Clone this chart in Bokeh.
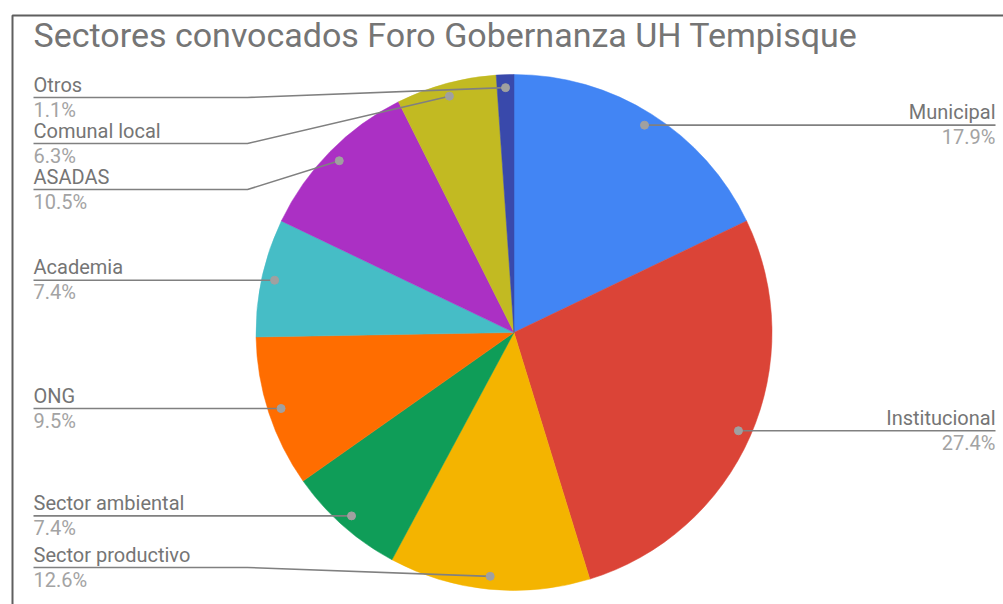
import math
from bokeh.plotting import figure
from bokeh.models import Range1d, ColumnDataSource
from bokeh.core.properties import value
from bokeh.embed import file_html
from bokeh.resources import INLINE

# ---- data ----
categories = ["Municipal", "Institucional", "Sector productivo", "Sector ambiental",
              "ONG", "Academia", "ASADAS", "Comunal local", "Otros"]
values = [17.9, 27.4, 12.6, 7.4, 9.5, 7.4, 10.5, 6.3, 1.1]
colors = ["#4285F4", "#DB4437", "#F4B400", "#0F9D58", "#FF6D00",
          "#46BDC6", "#AB30C4", "#C2BA22", "#3949AB"]
title = "Sectores convocados Foro Gobernanza UH Tempisque"

# ---- layout (pixels) ----
W, H = 1003, 604
CX, CY_S, R = 513.5, 332.0, 258.0     # centre (screen y) and radius
RD = 245.0                             # radius of leader dots
LEFT_X, BEND_X, RIGHT_X = 33, 247, 995
GAP, TOP_MIN, BOT_MAX = 46, 97, 567
FONT = value("Roboto")
LBL_FS = 20

def sy(y):  # screen y -> data y
    return H - y

p = figure(width=W, height=H, x_range=Range1d(0, W), y_range=Range1d(0, H),
           output_backend="svg", toolbar_location=None, min_border=0,
           x_axis_type=None, y_axis_type=None)
p.grid.visible = False
p.outline_line_color = None
p.background_fill_color = "white"
p.border_fill_color = "white"

# frame
p.quad(left=12, right=W + 10, top=sy(15), bottom=-10, fill_alpha=0,
       line_color="#5f5f5f", line_width=2)

# title
p.text(x=[LEFT_X], y=[sy(34)], text=[title], text_font=FONT, text_font_size="34px",
       text_color="#757575", text_align="left", text_baseline="alphabetic")

total = sum(values)
cum = 0.0
starts, ends, mids = [], [], []
for v in values:
    t0 = 2 * math.pi * cum / total
    cum += v
    t1 = 2 * math.pi * cum / total
    starts.append(math.pi / 2 - t1)
    ends.append(math.pi / 2 - t0)
    mids.append((t0 + t1) / 2)

src = ColumnDataSource(dict(start=starts, end=ends, color=colors, cat=categories))
p.wedge(x=CX, y=sy(CY_S), radius=R, start_angle="start", end_angle="end",
        fill_color="color", line_color="color", line_width=0.5, source=src)

# leader dots
dx = [CX + RD * math.sin(m) for m in mids]
dys = [CY_S - RD * math.cos(m) for m in mids]   # screen y

left = sorted([i for i in range(len(values)) if dx[i] < CX], key=lambda i: dys[i])
right = sorted([i for i in range(len(values)) if dx[i] >= CX], key=lambda i: dys[i])

label_y = {}
prev = None
for i in left:
    y = max(dys[i], TOP_MIN)
    if prev is not None:
        y = max(y, prev + GAP)
    label_y[i] = y
    prev = y
nxt = None
for i in reversed(left):
    y = min(label_y[i], BOT_MAX)
    if nxt is not None:
        y = min(y, nxt - GAP)
    label_y[i] = y
    nxt = y
for i in right:
    label_y[i] = dys[i]

xs, ys = [], []
for i in left:
    ly = label_y[i]
    xs.append([LEFT_X, BEND_X, dx[i]])
    ys.append([sy(ly), sy(ly), sy(dys[i])])
for i in right:
    xs.append([dx[i], RIGHT_X])
    ys.append([sy(dys[i]), sy(dys[i])])
p.multi_line(xs=xs, ys=ys, line_color="#808080", line_width=1.6)

p.scatter(x=dx, y=[sy(v) for v in dys], size=8, fill_color="#a0a0a0",
          line_color="#a0a0a0")

def labels(idx, x, align):
    p.text(x=[x] * len(idx), y=[sy(label_y[i] - 13) for i in idx],
           text=[categories[i] for i in idx], text_font=FONT,
           text_font_size=f"{LBL_FS}px",
           text_color="#757575", text_align=align, text_baseline="alphabetic")
    p.text(x=[x] * len(idx), y=[sy(label_y[i] + 12) for i in idx],
           text=[f"{values[i]:.1f}%" for i in idx], text_font=FONT,
           text_font_size=f"{LBL_FS}px",
           text_color="#a3a3a3", text_align=align, text_baseline="alphabetic")

labels(left, LEFT_X, "left")
labels(right, RIGHT_X, "right")

open("out.html", "w").write(file_html(p, INLINE))
